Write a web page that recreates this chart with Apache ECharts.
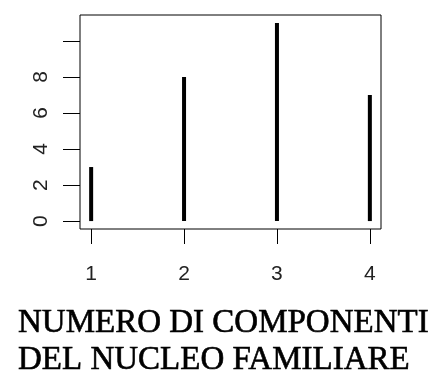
<!DOCTYPE html>
<html><head><meta charset="utf-8">
<script src="https://cdn.jsdelivr.net/npm/echarts@6/dist/echarts.min.js"></script>
<style>html,body{margin:0;padding:0;background:#fff}#c{width:437px;height:372px}</style>
</head><body><div id="c"></div>
<script>
const categories = [1, 2, 3, 4];
const counts = [3, 8, 11, 7];
const yTicks = [0, 2, 4, 6, 8, 10];
const yLabels = [0, 2, 4, 6, 8];
const xTitle = 'NUMERO DI COMPONENTI\nDEL NUCLEO FAMILIARE';

const chart = echarts.init(document.getElementById('c'), null, {renderer: 'canvas'});
chart.setOption({
  animation: false,
  backgroundColor: '#fff',
  grid: {left: 80, right: 56, top: 15, bottom: 143, show: true, borderColor: '#000', borderWidth: 1, backgroundColor: 'transparent'},
  title: {
    text: xTitle, left: 13, top: 300,
    textStyle: {fontFamily: 'Liberation Serif', fontSize: 33, fontWeight: 'normal', color: '#000', lineHeight: 37, textBorderColor: '#000', textBorderWidth: 0.6}
  },
  xAxis: {
    type: 'value', min: 0.88, max: 4.12,
    axisLine: {show: false, onZero: false},
    splitLine: {show: false},
    axisTick: {show: true, inside: false, length: 15, lineStyle: {color: '#000', width: 1}, customValues: categories},
    axisLabel: {show: true, margin: 35, fontFamily: 'Liberation Sans', fontSize: 21, color: '#222', customValues: categories}
  },
  yAxis: {
    type: 'value', min: -0.44, max: 11.44,
    axisLine: {show: false, onZero: false},
    splitLine: {show: false},
    axisTick: {show: true, length: 17, lineStyle: {color: '#000', width: 1}, customValues: yTicks},
    axisLabel: {show: true, rotate: 90, margin: 28, fontFamily: 'Liberation Sans', fontSize: 21, color: '#222', customValues: yLabels}
  },
  series: [{
    type: 'bar', barWidth: 4,
    itemStyle: {color: '#000'},
    data: categories.map((c, i) => [c, counts[i]])
  }]
});
</script></body></html>
